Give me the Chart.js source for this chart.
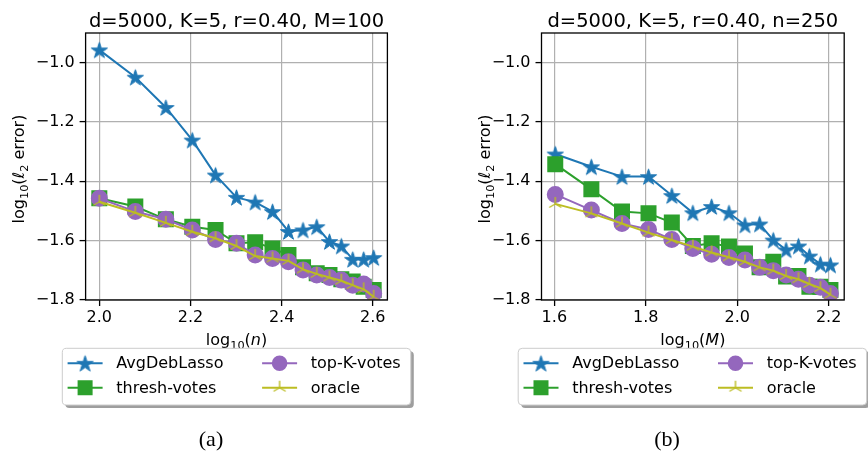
<!DOCTYPE html>
<html>
<head>
<meta charset="utf-8">
<script src="https://cdn.jsdelivr.net/npm/chart.js@4.4.1/dist/chart.umd.min.js"></script>
<style>
  body { margin: 0; background: #fff; width: 868px; height: 453px; position: relative; overflow: hidden; }
  canvas { position: absolute; top: 0; }
  .cap { position: absolute; top: 426px; font-family: 'Liberation Serif', serif; font-size: 22px; transform: translateX(-50%); }
</style>
</head>
<body>
<canvas id="chartN" width="434" height="453" style="left:0px"></canvas>
<canvas id="chartM" width="434" height="453" style="left:434px"></canvas>
<div class="cap" style="left:211px">(a)</div>
<div class="cap" style="left:667px">(b)</div>
<script>
// panel (a): M=100, varying n = 100..400
let logN = [2.000, 2.079, 2.146, 2.204, 2.255, 2.301, 2.342, 2.380, 2.415, 2.447, 2.477, 2.505, 2.531, 2.556, 2.580, 2.602];
let avgN = [-0.957, -1.049, -1.151, -1.261, -1.379, -1.454, -1.470, -1.502, -1.569, -1.564, -1.553, -1.603, -1.618, -1.663, -1.663, -1.657];
let threshN = [-1.457, -1.485, -1.528, -1.553, -1.564, -1.609, -1.605, -1.626, -1.648, -1.690, -1.710, -1.716, -1.730, -1.738, -1.755, -1.766];
let topkN = [-1.457, -1.502, -1.528, -1.564, -1.596, -1.609, -1.648, -1.660, -1.671, -1.699, -1.716, -1.724, -1.733, -1.750, -1.746, -1.778];
let oracleN = [-1.469, -1.506, -1.540, -1.570, -1.592, -1.618, -1.652, -1.660, -1.668, -1.697, -1.712, -1.724, -1.735, -1.750, -1.764, -1.789];

// panel (b): n=250, varying M = 40..160
let logM = [1.602, 1.681, 1.748, 1.806, 1.857, 1.903, 1.944, 1.982, 2.017, 2.049, 2.079, 2.107, 2.134, 2.158, 2.182, 2.204];
let avgM = [-1.308, -1.351, -1.384, -1.384, -1.448, -1.506, -1.485, -1.506, -1.547, -1.544, -1.598, -1.631, -1.618, -1.652, -1.679, -1.682];
let threshM = [-1.342, -1.427, -1.502, -1.508, -1.539, -1.618, -1.609, -1.620, -1.643, -1.690, -1.671, -1.721, -1.719, -1.755, -1.755, -1.766];
let topkM = [-1.444, -1.497, -1.542, -1.562, -1.596, -1.626, -1.646, -1.657, -1.665, -1.690, -1.701, -1.716, -1.730, -1.750, -1.757, -1.778];
let oracleM = [-1.476, -1.508, -1.542, -1.573, -1.598, -1.620, -1.640, -1.656, -1.671, -1.690, -1.701, -1.719, -1.730, -1.746, -1.760, -1.782];

let xTicksN = [2.0, 2.2, 2.4, 2.6];
let xTicksM = [1.6, 1.8, 2.0, 2.2];
let yTicks = [-1.8, -1.6, -1.4, -1.2, -1.0];
let seriesNames = ['AvgDebLasso', 'thresh-votes', 'top-K-votes', 'oracle'];

let blue = '#1f77b4', green = '#2ca02c', purple = '#9467bd', olive = '#bcbd22';
let FONT = "'DejaVu Sans', sans-serif";

// matplotlib-like '*' marker
function starMarker(color, R) {
    let c = document.createElement('canvas');
    let s = Math.ceil(2 * R + 4);
    c.width = s; c.height = s;
    let g = c.getContext('2d');
    g.beginPath();
    for (let i = 0; i < 10; i++) {
        let r = i % 2 ? R * 0.382 : R;
        let a = -Math.PI / 2 + i * Math.PI / 5;
        let px = s / 2 + r * Math.cos(a), py = s / 2 + R * 0.1 + r * Math.sin(a);
        if (i == 0) g.moveTo(px, py); else g.lineTo(px, py);
    }
    g.closePath();
    g.fillStyle = color; g.strokeStyle = color; g.lineWidth = 1;
    g.fill(); g.stroke();
    return c;
}

// matplotlib '2' (tri_up) marker
function triMarker(color, r) {
    let c = document.createElement('canvas');
    let s = Math.ceil(2 * r + 4);
    c.width = s; c.height = s;
    let g = c.getContext('2d');
    g.strokeStyle = color; g.lineWidth = 1.4;
    g.beginPath();
    [-90, 150, 30].forEach(function (deg) {
        let a = deg * Math.PI / 180;
        g.moveTo(s / 2, s / 2);
        g.lineTo(s / 2 + r * Math.cos(a), s / 2 + r * Math.sin(a));
    });
    g.stroke();
    return c;
}

let starImg = starMarker(blue, 8.5);
let triImg = triMarker(olive, 7);

function minus(v) {
    return (v < 0 ? '\u2212' : '') + Math.abs(v).toFixed(1);
}

// mathtext-ish label pieces: [text, style]  style: n normal, s subscript, i italic
function yLabelParts() {
    return [['log', 'n'], ['10', 's'], ['(', 'n'], ['\u2113', 'i'], ['2', 's'], [' error)', 'n']];
}
function xLabelParts(v) {
    return [['log', 'n'], ['10', 's'], ['(', 'n'], [v, 'i'], [')', 'n']];
}

function partFont(st) {
    if (st == 's') return '11.3px ' + FONT;
    if (st == 'i') return 'italic 16px ' + FONT;
    return '16px ' + FONT;
}

// draws the pieces centred on (0,0), baseline at y=0
function drawParts(ctx, parts) {
    let w = 0;
    parts.forEach(function (p) { ctx.font = partFont(p[1]); w += ctx.measureText(p[0]).width; });
    let x = -w / 2;
    ctx.textAlign = 'left';
    ctx.textBaseline = 'alphabetic';
    parts.forEach(function (p) {
        ctx.font = partFont(p[1]);
        ctx.fillText(p[0], x, p[1] == 's' ? 3.6 : 0);
        x += ctx.measureText(p[0]).width;
    });
}

// frame, titles and legend, drawn like the matplotlib figure
let framePlugin = {
    id: 'frame',
    afterDatasetsDraw: function (chart) {
        let a = chart.chartArea, ctx = chart.ctx;
        ctx.save();
        ctx.strokeStyle = '#000';
        ctx.lineWidth = 1.3;
        ctx.strokeRect(a.left, a.top, a.right - a.left, a.bottom - a.top);
        ctx.restore();
    },
    afterDraw: function (chart) {
        let a = chart.chartArea, ctx = chart.ctx;
        let opts = chart.options.plugins.frame;
        ctx.save();
        ctx.fillStyle = '#000';
        // title
        ctx.font = '19.5px ' + FONT;
        ctx.textAlign = 'center';
        ctx.textBaseline = 'alphabetic';
        ctx.fillText(opts.title, (a.left + a.right) / 2, 26.5);

        // axis labels
        ctx.save();
        ctx.translate((a.left + a.right) / 2, 345);
        drawParts(ctx, xLabelParts(opts.xVar));
        ctx.restore();
        ctx.save();
        ctx.translate(opts.yLabelX, 169);
        ctx.rotate(-Math.PI / 2);
        drawParts(ctx, yLabelParts());
        ctx.restore();

        // legend box
        let bx = a.left - 23.3, by = 348.3, bw = 348.5, bh = 56.7;
        ctx.fillStyle = 'rgba(0,0,0,0.38)';
        roundRect(ctx, bx + 3, by + 3, bw, bh, 4); ctx.fill();
        ctx.fillStyle = '#fff';
        roundRect(ctx, bx, by, bw, bh, 4); ctx.fill();
        ctx.strokeStyle = '#cccccc'; ctx.lineWidth = 1;
        roundRect(ctx, bx, by, bw, bh, 4); ctx.stroke();

        let slots = [[0, 0], [0, 1], [1, 0], [1, 1]]; // [col,row] for datasets 0..3
        ctx.font = '16px ' + FONT;
        ctx.textAlign = 'left';
        ctx.textBaseline = 'middle';
        chart.data.datasets.forEach(function (ds, i) {
            let col = slots[i][0], row = slots[i][1];
            let x0 = bx + 5.3 + col * 194.5;
            let y0 = by + 15 + row * 24.4;
            ctx.strokeStyle = ds.borderColor; ctx.lineWidth = ds.borderWidth;
            ctx.beginPath(); ctx.moveTo(x0, y0); ctx.lineTo(x0 + 35, y0); ctx.stroke();
            ctx.fillStyle = ds.pointBackgroundColor; ctx.strokeStyle = ds.pointBorderColor;
            Chart.helpers.drawPoint(ctx, {
                pointStyle: ds.pointStyle, radius: ds.legendRadius, rotation: 0, borderWidth: 1
            }, x0 + 17.5, y0);
            ctx.fillStyle = '#000';
            ctx.fillText(ds.label, x0 + 48.7, y0 + 1);
        });
        ctx.restore();
    }
};

function roundRect(ctx, x, y, w, h, r) {
    ctx.beginPath();
    ctx.moveTo(x + r, y);
    ctx.arcTo(x + w, y, x + w, y + h, r);
    ctx.arcTo(x + w, y + h, x, y + h, r);
    ctx.arcTo(x, y + h, x, y, r);
    ctx.arcTo(x, y, x + w, y, r);
    ctx.closePath();
}

function pts(xs, ys) {
    return xs.map(function (x, i) { return {x: x, y: ys[i]}; });
}

function makeChart(id, xs, avg, thresh, topk, oracle, xMin, xMax, xTicks, title, xVar, padLeft, padRight, yWidth, yLabelX) {
    let ctx = document.getElementById(id).getContext('2d');
    return new Chart(ctx, {
        type: 'line',
        data: {
            datasets: [
                {label: seriesNames[0], data: pts(xs, avg), borderColor: blue, borderWidth: 2,
                 pointStyle: starImg, pointBackgroundColor: blue, pointBorderColor: blue, legendRadius: 7, order: 4},
                {label: seriesNames[1], data: pts(xs, thresh), borderColor: green, borderWidth: 2,
                 pointStyle: 'rect', pointRadius: 9.9, pointBackgroundColor: green, pointBorderColor: green, legendRadius: 9.2, order: 3},
                {label: seriesNames[2], data: pts(xs, topk), borderColor: purple, borderWidth: 2,
                 pointStyle: 'circle', pointRadius: 7.5, pointBackgroundColor: purple, pointBorderColor: purple, legendRadius: 6.8, order: 2},
                {label: seriesNames[3], data: pts(xs, oracle), borderColor: olive, borderWidth: 2,
                 pointStyle: triImg, pointBackgroundColor: olive, pointBorderColor: olive, legendRadius: 6, order: 1}
            ]
        },
        options: {
            responsive: false,
            animation: false,
            devicePixelRatio: 1,
            clip: 0,
            elements: {line: {tension: 0}, point: {borderWidth: 1, hoverRadius: 8}},
            layout: {padding: {left: padLeft, right: padRight, top: 33, bottom: 107}},
            plugins: {
                legend: {display: false},
                tooltip: {enabled: false},
                frame: {title: title, xVar: xVar, yLabelX: yLabelX}
            },
            scales: {
                x: {
                    type: 'linear', min: xMin, max: xMax,
                    afterBuildTicks: function (s) { s.ticks = xTicks.map(function (v) { return {value: v}; }); },
                    afterFit: function (s) { s.height = 46; },
                    ticks: {color: '#000', font: {family: FONT, size: 16}, padding: 2, maxRotation: 0,
                            callback: function (v) { return minus(v); }},
                    grid: {color: '#b0b0b0', lineWidth: 1.2, tickColor: '#000', tickLength: 6, tickWidth: 1.3},
                    border: {display: false}
                },
                y: {
                    type: 'linear', min: -1.8, max: -0.9,
                    afterBuildTicks: function (s) { s.ticks = yTicks.map(function (v) { return {value: v}; }); },
                    afterFit: function (s) { s.width = yWidth; },
                    ticks: {color: '#000', font: {family: FONT, size: 16}, padding: 5,
                            callback: function (v) { return minus(v); }},
                    grid: {color: '#b0b0b0', lineWidth: 1.2, tickColor: '#000', tickLength: 6, tickWidth: 1.3},
                    border: {display: false}
                }
            }
        },
        plugins: [framePlugin]
    });
}

makeChart('chartN', logN, avgN, threshN, topkN, oracleN, 1.9699, 2.6321, xTicksN,
    'd=5000, K=5, r=0.40, M=100', 'n', 0, 46.6, 85.6, 24);
makeChart('chartM', logM, avgM, threshM, topkM, oracleM, 1.5719, 2.2341, xTicksM,
    'd=5000, K=5, r=0.40, n=250', 'M', 32, 23.8, 75.5, 56);
</script>
</body>
</html>
